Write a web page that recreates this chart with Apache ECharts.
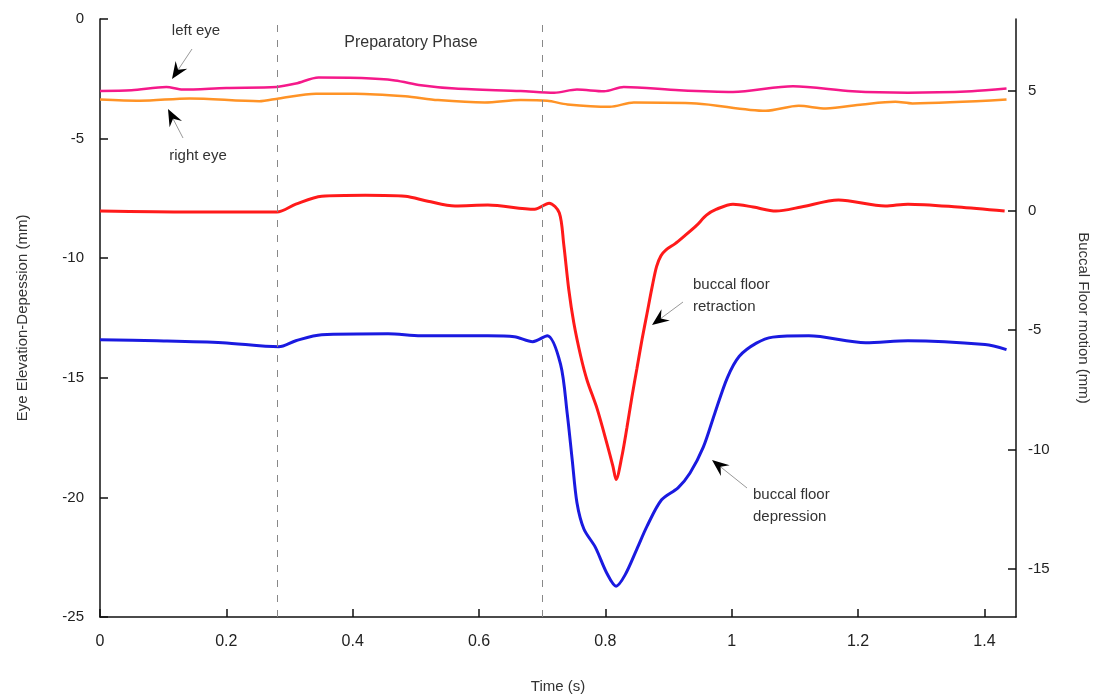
<!DOCTYPE html>
<html>
<head>
<meta charset="utf-8">
<script src="https://cdn.jsdelivr.net/npm/echarts@6/dist/echarts.min.js"></script>
<style>
html,body{margin:0;padding:0;background:#fff;overflow:hidden;}
#chart{width:1099px;height:699px;}
</style>
</head>
<body>
<div id="chart"></div>
<script>
// ---------- data ----------
const xTicks = [0, 0.2, 0.4, 0.6, 0.8, 1, 1.2, 1.4];
const leftTicks = [0, -5, -10, -15, -20, -25];
const rightTicks = [5, 0, -5, -10, -15];
const phaseLines = [0.2826, 0.704];

const leftEyeT = [0, 0.05, 0.105, 0.131, 0.2, 0.279, 0.31, 0.346, 0.414, 0.467, 0.508, 0.562, 0.666, 0.719, 0.755, 0.798, 0.829, 0.917, 1.002, 1.097, 1.191, 1.279, 1.38, 1.435];
const leftEyeV = [-3.01, -2.98, -2.84, -2.95, -2.88, -2.84, -2.7, -2.45, -2.47, -2.57, -2.77, -2.91, -3.01, -3.08, -2.95, -3.02, -2.84, -2.98, -3.05, -2.81, -3.02, -3.08, -3.02, -2.91];

const rightEyeT = [0, 0.063, 0.142, 0.252, 0.283, 0.342, 0.404, 0.483, 0.535, 0.609, 0.666, 0.708, 0.74, 0.807, 0.845, 0.944, 1.054, 1.106, 1.149, 1.207, 1.259, 1.286, 1.435];
const rightEyeV = [-3.37, -3.42, -3.32, -3.44, -3.32, -3.12, -3.12, -3.23, -3.39, -3.49, -3.39, -3.42, -3.57, -3.67, -3.49, -3.53, -3.84, -3.63, -3.74, -3.57, -3.46, -3.53, -3.37];

const retractionT = [0, 0.142, 0.28, 0.31, 0.351, 0.42, 0.483, 0.519, 0.562, 0.614, 0.688, 0.711, 0.727, 0.734, 0.742, 0.75, 0.761, 0.771, 0.787, 0.803, 0.812, 0.817, 0.826, 0.834, 0.842, 0.85, 0.858, 0.866, 0.874, 0.881, 0.888, 0.896, 0.91, 0.923, 0.944, 0.96, 0.976, 1.002, 1.034, 1.07, 1.11, 1.169, 1.243, 1.279, 1.358, 1.432];
const retractionV = [-0.03, -0.07, -0.07, 0.26, 0.59, 0.63, 0.59, 0.38, 0.18, 0.22, 0.05, 0.3, -0.1, -1.4, -3.3, -4.7, -6.1, -7.1, -8.3, -9.8, -10.7, -11.25, -10.3, -9.1, -7.8, -6.6, -5.4, -4.3, -3.2, -2.35, -1.9, -1.65, -1.4, -1.12, -0.64, -0.2, 0.05, 0.26, 0.14, -0.03, 0.14, 0.43, 0.18, 0.26, 0.14, -0.03];

const depressionT = [0, 0.09, 0.194, 0.283, 0.31, 0.351, 0.456, 0.508, 0.614, 0.656, 0.685, 0.708, 0.729, 0.7396, 0.7475, 0.755, 0.766, 0.784, 0.8025, 0.817, 0.831, 0.85, 0.866, 0.889, 0.915, 0.934, 0.955, 0.973, 0.993, 1.012, 1.039, 1.065, 1.122, 1.212, 1.279, 1.401, 1.435];
const depressionV = [-5.41, -5.45, -5.53, -5.70, -5.45, -5.20, -5.16, -5.24, -5.24, -5.28, -5.49, -5.24, -6.43, -8.5, -10.43, -12.22, -13.32, -14.08, -15.18, -15.71, -15.25, -14.15, -13.2, -12.1, -11.6, -10.98, -9.9, -8.5, -7.0, -6.1, -5.55, -5.3, -5.24, -5.53, -5.45, -5.61, -5.82];

// ---------- helpers ----------
function zip(t, v) { return t.map((x, i) => [x, v[i]]); }
const FONT = "'Liberation Sans', Arial, sans-serif";
const TXT = '#333';

const chart = echarts.init(document.getElementById('chart'), null, {renderer: 'canvas'});

const axisLineStyle = {color: '#111', width: 1.5};

const option = {
  backgroundColor: '#fff',
  animation: false,
  grid: {left: 100, right: 79, top: 19, bottom: 76, containLabel: false},
  xAxis: {
    type: 'value', min: 0, max: 1.45,
    name: 'Time (s)', nameLocation: 'middle', nameGap: 62,
    nameTextStyle: {fontFamily: FONT, fontSize: 15, color: TXT},
    axisLine: {show: true, onZero: false, lineStyle: axisLineStyle},
    axisTick: {show: true, inside: true, length: 8, lineStyle: axisLineStyle, customValues: xTicks},
    axisLabel: {fontFamily: FONT, fontSize: 16, color: '#222', margin: 17, customValues: xTicks,
      formatter: v => String(v)},
    splitLine: {show: false}
  },
  yAxis: [
    {
      type: 'value', min: -25, max: 0, interval: 5, position: 'left',
      name: 'Eye Elevation-Depession (mm)', nameLocation: 'middle', nameGap: 70, nameRotate: 90,
      nameTextStyle: {fontFamily: FONT, fontSize: 15, color: TXT},
      axisLine: {show: true, onZero: false, lineStyle: axisLineStyle},
      axisTick: {show: true, inside: true, length: 8, lineStyle: axisLineStyle},
      axisLabel: {fontFamily: FONT, fontSize: 15, color: '#222', margin: 16},
      splitLine: {show: false}
    },
    {
      type: 'value', min: -17, max: 8, position: 'right',
      name: 'Buccal Floor motion (mm)', nameLocation: 'middle', nameGap: 60, nameRotate: -90,
      nameTextStyle: {fontFamily: FONT, fontSize: 15, color: TXT},
      axisLine: {show: true, onZero: false, lineStyle: axisLineStyle},
      axisTick: {show: true, inside: true, length: 8, lineStyle: axisLineStyle, customValues: rightTicks},
      axisLabel: {fontFamily: FONT, fontSize: 15, color: '#222', margin: 12, customValues: rightTicks},
      splitLine: {show: false}
    }
  ],
  series: [
    {
      name: 'left eye', type: 'line', yAxisIndex: 0, data: zip(leftEyeT, leftEyeV),
      showSymbol: false, smooth: 0.3, lineStyle: {color: '#f5198a', width: 2.5}, z: 3,
      markLine: {
        silent: true, symbol: 'none', label: {show: false},
        lineStyle: {color: '#888', type: [7, 8], width: 1},
        data: phaseLines.map(x => ({xAxis: x}))
      }
    },
    {
      name: 'right eye', type: 'line', yAxisIndex: 0, data: zip(rightEyeT, rightEyeV),
      showSymbol: false, smooth: 0.3, lineStyle: {color: '#ff9326', width: 2.5}, z: 3
    },
    {
      name: 'buccal floor retraction', type: 'line', yAxisIndex: 1, data: zip(retractionT, retractionV),
      showSymbol: false, smooth: 0.3, lineStyle: {color: '#ff1a1a', width: 3}, z: 3
    },
    {
      name: 'buccal floor depression', type: 'line', yAxisIndex: 1, data: zip(depressionT, depressionV),
      showSymbol: false, smooth: 0.3, lineStyle: {color: '#1a1ae0', width: 3}, z: 3
    }
  ]
};
chart.setOption(option);

// ---------- annotations ----------
function arrow(tail, tip) {
  const dx = tip[0] - tail[0], dy = tip[1] - tail[1];
  const len = Math.hypot(dx, dy);
  const ux = dx / len, uy = dy / len;
  const nx = -uy, ny = ux;
  const L = 17, W = 7, N = 11;
  const b1 = [tip[0] - ux * L + nx * W, tip[1] - uy * L + ny * W];
  const b2 = [tip[0] - ux * L - nx * W, tip[1] - uy * L - ny * W];
  const nt = [tip[0] - ux * N, tip[1] - uy * N];
  return [
    {type: 'line', shape: {x1: tail[0], y1: tail[1], x2: nt[0], y2: nt[1]},
     style: {stroke: '#999', lineWidth: 1}, z: 10},
    {type: 'polygon', shape: {points: [tip, b1, nt, b2]}, style: {fill: '#000'}, z: 11}
  ];
}
function label(text, x, y, align, size) {
  return {type: 'text', x: x, y: y, z: 12,
    style: {text: text, fontFamily: FONT, fontSize: size || 15, fill: TXT,
      align: align || 'center', verticalAlign: 'middle'}};
}
const g = [].concat(
  [label('left eye', 196, 31), label('right eye', 198, 156), label('Preparatory Phase', 411, 43, 'center', 16)],
  [label('buccal floor', 693, 285, 'left'), label('retraction', 693, 307, 'left')],
  [label('buccal floor', 753, 495, 'left'), label('depression', 753, 517, 'left')],
  arrow([192, 49], [172, 79]),
  arrow([183, 138], [168, 109]),
  arrow([683, 302], [652, 325]),
  arrow([747, 488], [712, 460])
);
chart.setOption({graphic: g});
</script>
</body>
</html>
